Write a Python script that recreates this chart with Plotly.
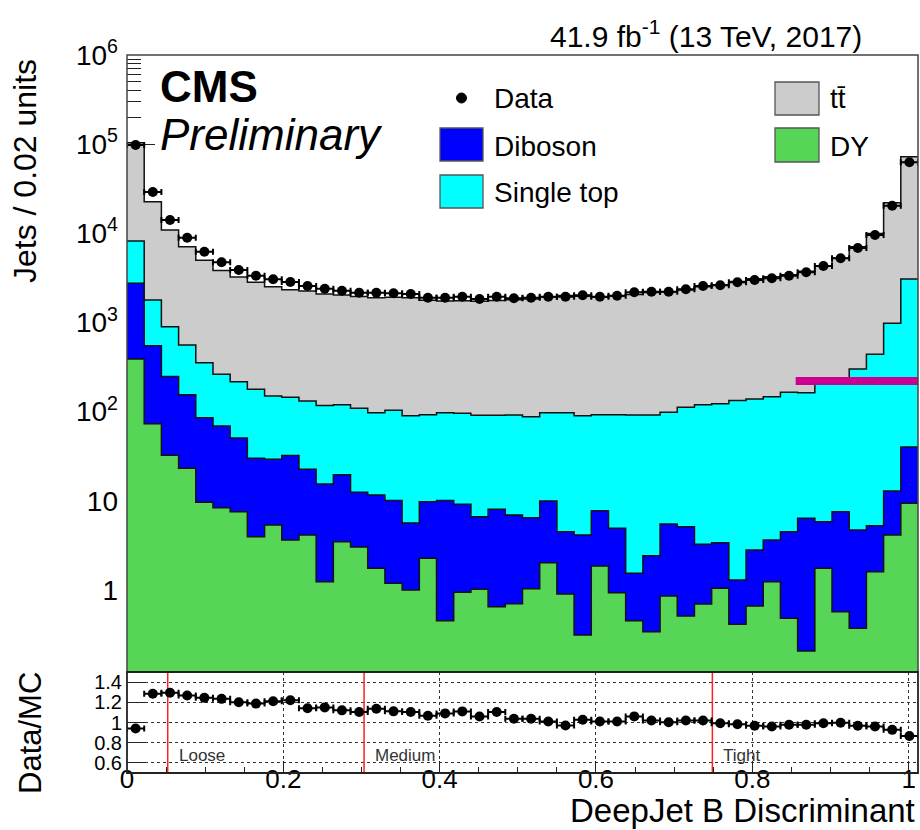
import numpy as np
import plotly.graph_objects as go

# ---------------------------------------------------------------- binning
X_MAX = 1.012
N_BINS = 46
bin_edges = np.linspace(0.0, X_MAX, N_BINS + 1)
bin_width = bin_edges[1] - bin_edges[0]
bin_centers = 0.5 * (bin_edges[:-1] + bin_edges[1:])

# ---------------------------------------------------------------- yields per bin
data_counts = [97800, 29100, 14110, 8930, 6220, 4730, 3880, 3350, 3052, 2847,
               2568, 2394, 2274, 2159, 2159, 2126, 2088, 1897, 1897, 1947,
               1835, 1947, 1868, 1897, 1947, 1947, 2019, 1947, 1998, 2182,
               2216, 2216, 2358, 2568, 2615, 2825, 2998, 3132, 3350, 3658,
               4303, 5252, 6849, 9583, 20400, 62600]

dy = [390, 73.3, 32.4, 23.2, 9.63, 8.37, 7.55, 3.96, 5.36, 3.64,
      4.14, 1.24, 3.48, 3.03, 1.75, 1.19, 1.0, 2.27, 0.453, 0.942,
      1.02, 0.65, 0.702, 1.03, 2.02, 0.902, 0.313, 1.86, 0.933, 0.453,
      0.341, 0.857, 0.511, 0.697, 1.045, 0.412, 0.662, 1.24, 0.482, 0.207,
      1.75, 0.571, 0.372, 1.60, 4.14, 9.38]

diboson = [2362, 476, 215, 132, 76.0, 60.7, 43.2, 26.0, 23.8, 28.5,
           18.5, 14.2, 16.1, 9.47, 9.85, 8.91, 4.64, 7.51, 9.65, 8.20,
           5.62, 7.39, 6.24, 5.44, 7.94, 3.61, 3.83, 5.89, 3.99, 1.09,
           2.08, 4.64, 4.62, 2.55, 2.35, 0.878, 2.15, 2.40, 4.03, 6.16,
           4.08, 6.98, 4.34, 3.66, 8.76, 30.8]

single_top = [5448, 1238, 650, 404, 268, 193, 166, 148, 121, 113,
              109, 102, 100, 96.5, 85.7, 93.9, 84.5, 82.6, 87.2, 86.8,
              84.4, 83.0, 84.6, 81.3, 87.3, 92.8, 86.0, 84.7, 87.5, 90.3,
              89.4, 92.9, 107, 116, 119, 132, 136, 143, 161, 157,
              204, 224, 296, 435, 966, 3034]

ttbar = [95800, 20870, 10000, 6490, 4646, 3571, 3016, 2644, 2372, 2189,
         2120, 1965, 1910, 1847, 1802, 1811, 1801, 1686, 1643, 1658,
         1640, 1673, 1709, 1741, 1831, 1910, 1876, 1836, 1886, 1966,
         2080, 2111, 2200, 2399, 2511, 2741, 2961, 3116, 3263, 3581,
         4123, 5036, 6782, 9542, 21020, 69130]

# b-tagging working points
wp_names = ["Loose", "Medium", "Tight"]
wp_values = [0.0521, 0.3033, 0.7489]

# horizontal marker segment drawn over the stack
seg_x = [0.8555, X_MAX]
seg_y = [221, 221]

# stack order (bottom to top)
stack = [
    ("DY", dy, "#57d557"),
    ("Diboson", diboson, "#0000ff"),
    ("Single top", single_top, "#00ffff"),
    ("tt\u0304", ttbar, "#cccccc"),
]

# ---------------------------------------------------------------- page geometry
W, H = 920, 830
M_L, M_R, M_T, M_B = 127, 2, 55, 57
PANEL_SPLIT = 672


def px_x(p):
    return (p - M_L) / (W - M_L - M_R)


def px_y(p):
    return (H - M_B - p) / (H - M_T - M_B)


ratio_top = px_y(PANEL_SPLIT)
FONT = "Liberation Sans, Arial, Helvetica, sans-serif"
FLOOR = 1e-3


def step(vals):
    v = np.asarray(vals, dtype=float)
    return np.append(v, v[-1])


fig = go.Figure()

# invisible floor for the first filled layer
fig.add_trace(go.Scatter(x=bin_edges, y=step(np.full(N_BINS, FLOOR)),
                         mode="lines", line=dict(width=0, shape="hv"),
                         showlegend=False, hoverinfo="skip",
                         xaxis="x", yaxis="y"))

cumulative = np.zeros(N_BINS)
for name, vals, color in stack:
    cumulative = cumulative + np.asarray(vals, dtype=float)
    fig.add_trace(go.Scatter(
        x=bin_edges, y=step(cumulative), mode="lines", name=name,
        line=dict(color="#111111", width=1.5, shape="hv"),
        fill="tonexty", fillcolor=color, showlegend=False,
        xaxis="x", yaxis="y"))

total_mc = cumulative.copy()

fig.add_trace(go.Scatter(x=seg_x, y=seg_y, mode="lines",
                         line=dict(color="#cc0090", width=8),
                         showlegend=False, hoverinfo="skip",
                         xaxis="x", yaxis="y"))

err_x = dict(type="constant", value=bin_width / 2, color="black",
             thickness=2, width=3)

fig.add_trace(go.Scatter(x=bin_centers, y=data_counts, mode="markers",
                         marker=dict(color="black", size=10),
                         error_x=err_x, name="Data", showlegend=False,
                         xaxis="x", yaxis="y"))

# ---------------------------------------------------------------- ratio panel
ratio = np.asarray(data_counts, dtype=float) / total_mc

for v in wp_values:
    fig.add_trace(go.Scatter(x=[v, v], y=[0.5, 1.5], mode="lines",
                             line=dict(color="#ff2020", width=1.5),
                             showlegend=False, hoverinfo="skip",
                             xaxis="x2", yaxis="y2"))

fig.add_trace(go.Scatter(x=bin_centers, y=ratio, mode="markers",
                         marker=dict(color="black", size=10),
                         error_x=err_x, showlegend=False,
                         xaxis="x2", yaxis="y2"))

# ---------------------------------------------------------------- axes
log_major = [1, 10, 100, 1e3, 1e4, 1e5, 1e6]
log_major_text = ["1", "10", "10<sup>2</sup>", "10<sup>3</sup>",
                  "10<sup>4</sup>", "10<sup>5</sup>", "10<sup>6</sup>"]
log_minor = [m * 10.0 ** k for k in range(-1, 6) for m in range(2, 10)]

fig.update_layout(
    width=W, height=H,
    margin=dict(l=M_L, r=M_R, t=M_T, b=M_B),
    paper_bgcolor="white", plot_bgcolor="white",
    font=dict(family=FONT, color="black"),
    showlegend=False,
    xaxis=dict(domain=[0, 1], anchor="y", range=[0, X_MAX],
               showticklabels=False, ticks="", showgrid=False,
               zeroline=False, showline=False),
    yaxis=dict(domain=[ratio_top, 1], anchor="x", type="log",
               range=[-0.92, 6.0], tickmode="array",
               tickvals=log_major, ticktext=log_major_text,
               ticks="inside", ticklen=28, tickwidth=1.3, tickcolor="#222",
               minor=dict(tickmode="array", tickvals=log_minor,
                          ticks="inside", ticklen=14, tickwidth=1.3,
                          tickcolor="#222", showgrid=False),
               showgrid=False, zeroline=False, showline=False,
               layer="below traces", tickfont=dict(size=28),
               ticklabelstandoff=8),
    xaxis2=dict(domain=[0, 1], anchor="y2", range=[0, X_MAX],
                tickmode="array", tickvals=[0, 0.2, 0.4, 0.6, 0.8, 1.0],
                ticktext=["0", "0.2", "0.4", "0.6", "0.8", "1"],
                ticks="inside", ticklen=12, tickwidth=1.3, tickcolor="#222",
                minor=dict(dtick=0.05, tick0=0, ticks="inside", ticklen=6,
                           tickwidth=1, tickcolor="#222", showgrid=False),
                showgrid=True, gridcolor="#333", griddash="dot", gridwidth=1,
                zeroline=False, showline=False,
                tickfont=dict(size=26), ticklabelstandoff=-12),
    yaxis2=dict(domain=[0, ratio_top], anchor="x2", range=[0.5, 1.5],
                tickmode="array", tickvals=[0.6, 0.8, 1.0, 1.2, 1.4],
                ticktext=["0.6", "0.8", "1", "1.2", "1.4"],
                ticks="inside", ticklen=18, tickwidth=1.3, tickcolor="#222",
                showgrid=True, gridcolor="#333", griddash="dot", gridwidth=1,
                zeroline=False, showline=False,
                tickfont=dict(size=20), ticklabelstandoff=4),
)

# ---------------------------------------------------------------- frames
shapes = [
    dict(type="rect", xref="paper", yref="paper", x0=0, x1=1,
         y0=ratio_top, y1=1, line=dict(color="#444", width=1.5),
         fillcolor="rgba(0,0,0,0)", layer="above"),
    dict(type="rect", xref="paper", yref="paper", x0=0, x1=1,
         y0=0, y1=ratio_top, line=dict(color="#222", width=1.8),
         fillcolor="rgba(0,0,0,0)", layer="above"),
]

# ---------------------------------------------------------------- legend
legend_boxes = [
    ("Diboson", "#0000ff", 440, 128, 483, 161, 492, 146),
    ("Single top", "#00ffff", 440, 175, 483, 208, 492, 192),
    ("tt\u0304", "#cccccc", 775, 82, 819, 115, 828, 99),
    ("DY", "#57d557", 775, 128, 819, 162, 828, 146),
]
annotations = []
for label, color, x0, y0, x1, y1, tx, ty in legend_boxes:
    shapes.append(dict(type="rect", xref="paper", yref="paper",
                       x0=px_x(x0), x1=px_x(x1), y0=px_y(y1), y1=px_y(y0),
                       line=dict(color="#555", width=1.3), fillcolor=color,
                       layer="above"))
    annotations.append(dict(text=label, xref="paper", yref="paper",
                            x=px_x(tx), y=px_y(ty), xanchor="left",
                            yanchor="middle", showarrow=False,
                            font=dict(size=28)))

shapes.append(dict(type="circle", xref="paper", yref="paper",
                   x0=px_x(456.5), x1=px_x(466.5), y0=px_y(103), y1=px_y(93),
                   line=dict(color="black", width=1), fillcolor="black",
                   layer="above"))
annotations.append(dict(text="Data", xref="paper", yref="paper",
                        x=px_x(492), y=px_y(99), xanchor="left",
                        yanchor="middle", showarrow=False,
                        font=dict(size=28)))

# ---------------------------------------------------------------- texts
annotations += [
    dict(text="41.9 fb<sup>-1</sup> (13 TeV, 2017)", xref="paper",
         yref="paper", x=px_x(864), y=px_y(34), xanchor="right",
         yanchor="middle", showarrow=False, font=dict(size=30)),
    dict(text="<b>CMS</b>", xref="paper", yref="paper", x=px_x(158),
         y=px_y(86), xanchor="left", yanchor="middle", showarrow=False,
         font=dict(size=44)),
    dict(text="<i>Preliminary</i>", xref="paper", yref="paper",
         x=px_x(158), y=px_y(134), xanchor="left", yanchor="middle",
         showarrow=False, font=dict(size=44)),
    dict(text="Jets / 0.02 units", xref="paper", yref="paper",
         x=px_x(25), y=px_y(171), xanchor="center", yanchor="middle",
         textangle=-90, showarrow=False, font=dict(size=32)),
    dict(text="Data/MC", xref="paper", yref="paper",
         x=px_x(30), y=px_y(733), xanchor="center", yanchor="middle",
         textangle=-90, showarrow=False, font=dict(size=31)),
    dict(text="DeepJet B Discriminant", xref="paper", yref="paper",
         x=px_x(916), y=px_y(830), xanchor="right", yanchor="bottom",
         borderpad=0, showarrow=False, font=dict(size=33)),
]
for name, v in zip(wp_names, wp_values):
    annotations.append(dict(text=name, xref="x2", yref="y2", x=v, y=0.67,
                            xshift=9, xanchor="left", yanchor="middle",
                            showarrow=False,
                            font=dict(size=17, color="#333")))

fig.update_layout(shapes=shapes, annotations=annotations)

fig.write_html("out.html")
